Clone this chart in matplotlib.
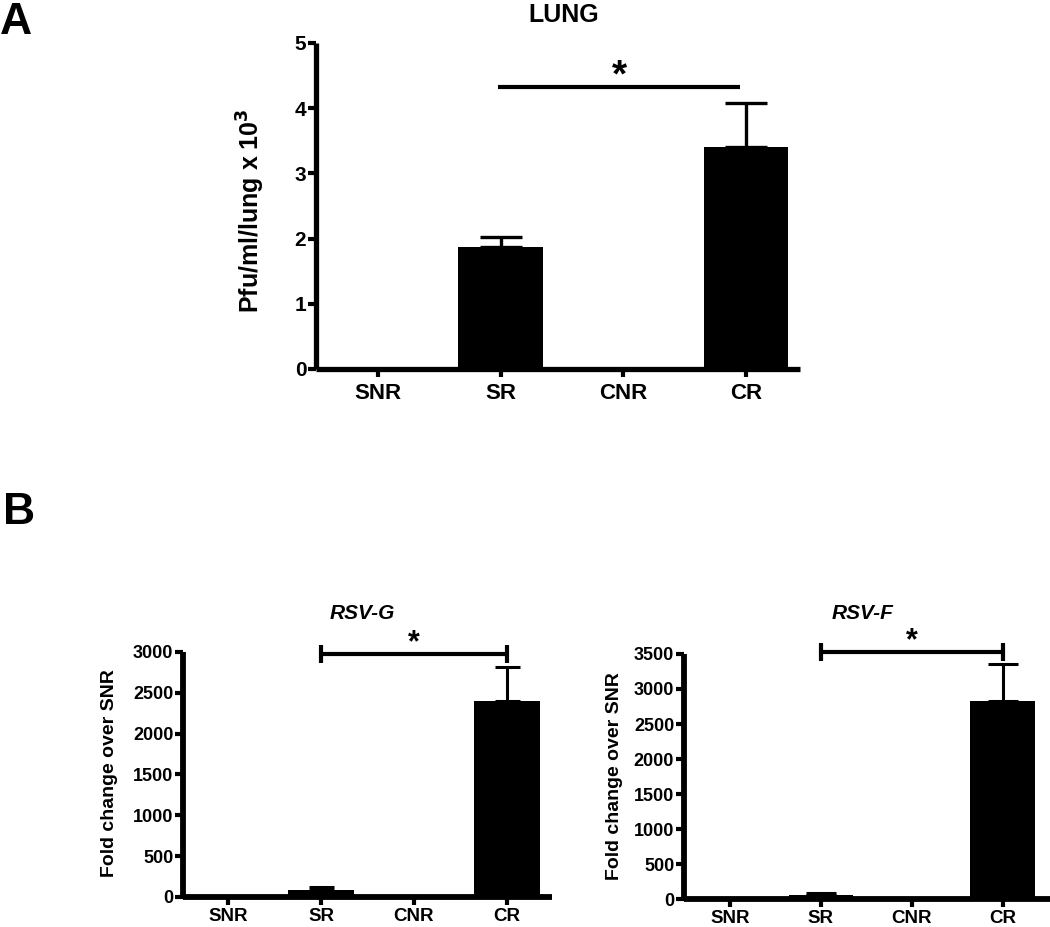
import numpy as np
import matplotlib
matplotlib.use("Agg")
import matplotlib.pyplot as plt

plt.rcParams['font.family'] = ['Liberation Sans', 'DejaVu Sans']
plt.rcParams['font.weight'] = 'bold'

# data
groups = ["SNR", "SR", "CNR", "CR"]

lung_vals = [0, 1.87, 0, 3.40]
lung_err = [0, 0.15, 0, 0.68]
lung_ticks = [0, 1, 2, 3, 4, 5]

rsvg_vals = [1, 80, 5, 2400]
rsvg_err = [0, 45, 0, 420]
rsvg_ticks = [0, 500, 1000, 1500, 2000, 2500, 3000]

rsvf_vals = [1, 60, 15, 2830]
rsvf_err = [0, 20, 0, 530]
rsvf_ticks = [0, 500, 1000, 1500, 2000, 2500, 3000, 3500]

fig = plt.figure(figsize=(10.5, 9.27), dpi=100)


def style_axis(ax, spine_w, tick_len, tick_w, xsize, ysize, xpad=4):
    for s in ['top', 'right']:
        ax.spines[s].set_visible(False)
    for s in ['left', 'bottom']:
        ax.spines[s].set_linewidth(spine_w)
        ax.spines[s].set_capstyle('butt')
    ax.tick_params(axis='both', length=tick_len, width=tick_w, color='black')
    ax.tick_params(axis='x', labelsize=xsize, pad=xpad)
    ax.tick_params(axis='y', labelsize=ysize, pad=1)


def draw_bars(ax, vals, err, capsize, elw, width):
    x = np.arange(len(groups))
    ax.bar(x, vals, width=width, color='black', zorder=3)
    keep = [i for i, e in enumerate(err) if e > 0]
    ax.errorbar(x[keep], np.array(vals)[keep],
                yerr=[np.zeros(len(keep)), np.array(err)[keep]],
                fmt='none', ecolor='black', elinewidth=elw,
                capsize=capsize, capthick=elw, zorder=2)
    ax.set_xticks(x)
    ax.set_xticklabels(groups)


# ---- panel A: LUNG
axA = fig.add_axes([0.301, 0.602, 0.461, 0.3517])
draw_bars(axA, lung_vals, lung_err, capsize=15, elw=2.4, width=0.69)
axA.set_xlim(-0.506, 3.44)
axA.set_ylim(0, 5)
axA.set_yticks(lung_ticks)
style_axis(axA, 3.8, 6, 3, 16, 15)
axA.set_ylabel("Pfu/ml/lung x 10$^\\mathbf{3}$", fontsize=18, fontweight='bold', va='center')
axA.yaxis.set_label_coords(-0.134, 0.485)
axA.text(0.512, 1.086, "LUNG", transform=axA.transAxes, ha='center', va='center',
         fontsize=18, fontweight='bold')
axA.plot([0.98, 2.95], [4.33, 4.33], color='black', lw=3, clip_on=False, solid_capstyle='butt')
axA.text(1.97, 4.33, "*", ha='center', va='baseline', fontsize=28, fontweight='bold')


# ---- panel B
def rsv_panel(rect, vals, err, ticks, xlim, title, tx, ty, ybr, ycap, lab_x, lab_y, caps):
    ax = fig.add_axes(rect)
    draw_bars(ax, vals, err, capsize=caps, elw=2.2, width=0.71)
    ax.set_xlim(*xlim)
    ax.set_ylim(0, ticks[-1])
    ax.set_yticks(ticks)
    style_axis(ax, 4.2, 6, 3, 13.5, 13, xpad=2)
    ax.set_ylabel("Fold change over SNR", fontsize=14, fontweight='bold', va='center')
    ax.yaxis.set_label_coords(lab_x, lab_y)
    ax.text(tx, ty, title, transform=ax.transAxes, ha='center', va='center',
            fontsize=15, fontweight='bold', style='italic')
    ax.plot([1, 3], [ybr, ybr], color='black', lw=3, clip_on=False, solid_capstyle='butt')
    for xx in [1, 3]:
        ax.plot([xx, xx], [ybr - ycap, ybr + ycap], color='black', lw=3,
                clip_on=False, solid_capstyle='butt')
    ax.text(2.0, ybr + ycap * 0.3, "*", ha='center', va='baseline', fontsize=22, fontweight='bold')
    return ax


rsv_panel([0.1743, 0.0324, 0.3514, 0.2643], rsvg_vals, rsvg_err, rsvg_ticks,
          (-0.484, 3.484), "RSV-G", 0.485, 1.159, 2976, 110, -0.198, 0.506, 9)
rsv_panel([0.6514, 0.0302, 0.3486, 0.2643], rsvf_vals, rsvf_err, rsvf_ticks,
          (-0.505, 3.52), "RSV-F", 0.489, 1.167, 3529, 129, -0.191, 0.50, 11)

fig.text(0.0, 1 - 2 / 927, "A", ha='left', va='top', fontsize=32, fontweight='bold')
fig.text(0.003, 1 - 492 / 927, "B", ha='left', va='top', fontsize=32, fontweight='bold')

fig.savefig("out.png", dpi=100)
